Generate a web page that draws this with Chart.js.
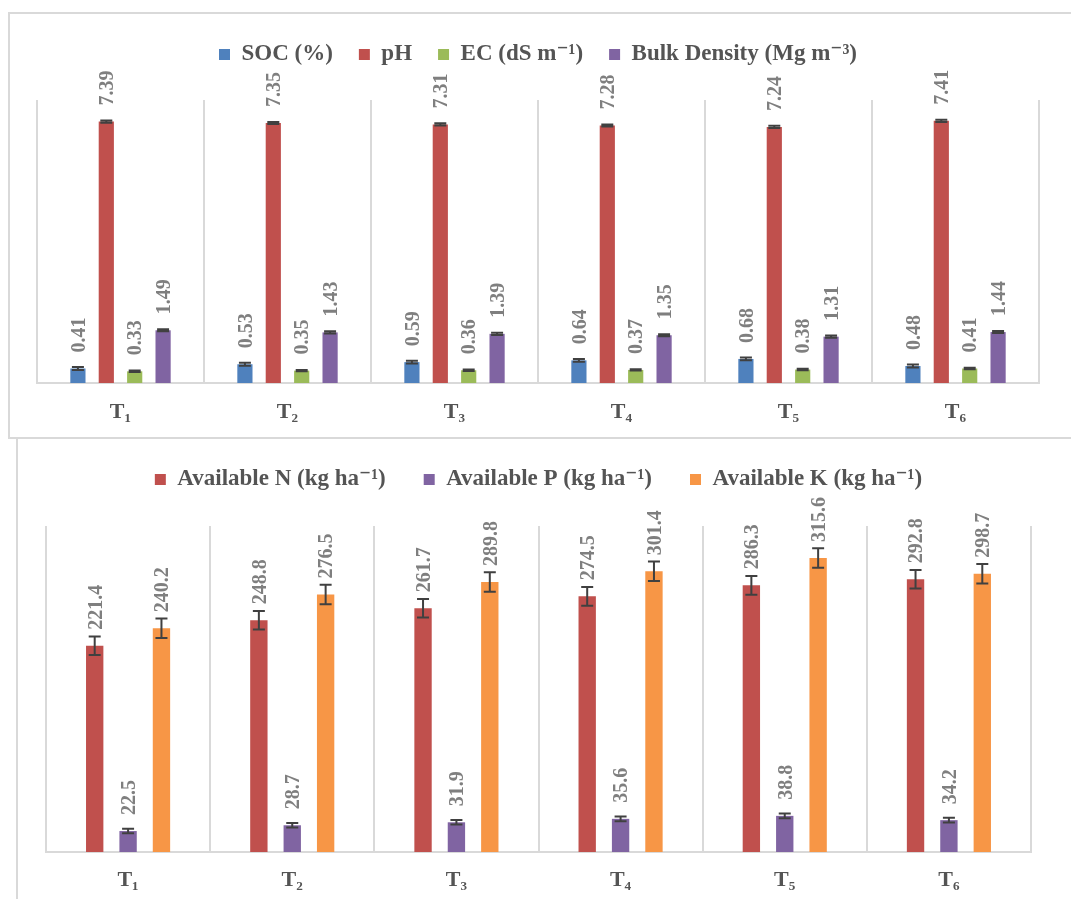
<!DOCTYPE html>
<html>
<head>
<meta charset="utf-8">
<title>Soil properties under treatments T1–T6</title>
<script src="https://cdn.jsdelivr.net/npm/chart.js@4.4.1/dist/chart.umd.min.js"></script>
<style>
  html, body { margin: 0; padding: 0; background: #fff; width: 1071px; height: 899px; overflow: hidden; position: relative; }
  .frame { position: absolute; border: 2px solid #d9d9d9; box-sizing: border-box; }
  #f1 { left: 8px; top: 12px; width: 1090px; height: 427px; }
  #f2 { left: 16px; top: 437px; width: 1090px; height: 480px; }
  canvas { position: absolute; left: 0; }
  #c1 { top: 0; }
  #c2 { top: 438px; }
</style>
</head>
<body>
<div class="frame" id="f1"></div>
<div class="frame" id="f2"></div>
<canvas id="c1" width="1071" height="437"></canvas>
<canvas id="c2" width="1071" height="461"></canvas>
<script>
// Treatments
const treatments = ['T\u2081', 'T\u2082', 'T\u2083', 'T\u2084', 'T\u2085', 'T\u2086'];

// Physico-chemical properties
const socValues = [0.41, 0.53, 0.59, 0.64, 0.68, 0.48];
const socErrors = [0.04, 0.04, 0.04, 0.04, 0.04, 0.04];
const phValues  = [7.39, 7.35, 7.31, 7.28, 7.24, 7.41];
const phErrors  = [0.03, 0.03, 0.03, 0.03, 0.03, 0.03];
const ecValues  = [0.33, 0.35, 0.36, 0.37, 0.38, 0.41];
const ecErrors  = [0.02, 0.02, 0.02, 0.02, 0.02, 0.02];
const bdValues  = [1.49, 1.43, 1.39, 1.35, 1.31, 1.44];
const bdErrors  = [0.03, 0.03, 0.03, 0.03, 0.03, 0.03];

// Available nutrients
const nValues = [221.4, 248.8, 261.7, 274.5, 286.3, 292.8];
const nErrors = [10, 10, 10, 10, 10, 10];
const pValues = [22.5, 28.7, 31.9, 35.6, 38.8, 34.2];
const pErrors = [2.5, 2.5, 2.5, 2.5, 2.5, 2.5];
const kValues = [240.2, 276.5, 289.8, 301.4, 315.6, 298.7];
const kErrors = [10.5, 10.5, 10.5, 10.5, 10.5, 10.5];

const SERIF = "'Liberation Serif', 'Times New Roman', 'DejaVu Serif', serif";
Chart.defaults.font.family = SERIF;

// Fixes the height reserved for the legend so the plot area starts where wanted
const legendHeight = {
  id: 'legendHeight',
  beforeLayout(chart, args, opts) {
    const lg = chart.legend;
    if (!lg || lg._fixedHeight) return;
    const fit = lg.fit;
    lg.fit = function () { fit.call(this); this.height = opts.height; };
    lg._fixedHeight = true;
  }
};

// Error bars and rotated value labels above every bar
const barAnnotations = {
  id: 'barAnnotations',
  afterDatasetsDraw(chart, args, opts) {
    const ctx = chart.ctx;
    const yScale = chart.scales.y;
    chart.data.datasets.forEach((ds, di) => {
      const meta = chart.getDatasetMeta(di);
      meta.data.forEach((bar, i) => {
        const v = ds.data[i];
        const e = ds.errors[i];
        const yHi = yScale.getPixelForValue(v + e);
        const yLo = yScale.getPixelForValue(v - e);
        ctx.save();
        ctx.strokeStyle = '#404040';
        ctx.lineWidth = 2;
        ctx.beginPath();
        ctx.moveTo(bar.x, yHi); ctx.lineTo(bar.x, yLo);
        ctx.moveTo(bar.x - opts.cap, yHi); ctx.lineTo(bar.x + opts.cap, yHi);
        ctx.moveTo(bar.x - opts.cap, yLo); ctx.lineTo(bar.x + opts.cap, yLo);
        ctx.stroke();
        ctx.restore();

        ctx.save();
        ctx.translate(bar.x, bar.y - opts.gap);
        ctx.rotate(-Math.PI / 2);
        ctx.font = 'bold ' + opts.fontSize + 'px ' + SERIF;
        ctx.fillStyle = '#7f7f7f';
        ctx.textAlign = 'left';
        ctx.textBaseline = 'alphabetic';
        ctx.fillText(v.toFixed(opts.decimals), 0, opts.fontSize * 0.34);
        ctx.restore();
      });
    });
  }
};

function barSet(label, data, errors, color) {
  return { label, data, errors, backgroundColor: color, borderWidth: 0 };
}

function makeOptions(cfg) {
  return {
    responsive: false,
    animation: false,
    devicePixelRatio: 1,
    layout: { padding: cfg.padding },
    datasets: { bar: { categoryPercentage: cfg.catPct, barPercentage: cfg.barPct } },
    plugins: {
      legend: {
        position: 'top',
        labels: {
          boxWidth: 11, boxHeight: 11, padding: cfg.legendPad,
          color: '#545454',
          font: { family: SERIF, size: 23, weight: 'bold' }
        }
      },
      tooltip: { enabled: false },
      legendHeight: { height: cfg.legendH },
      barAnnotations: { cap: 6, gap: 16, fontSize: 20, decimals: cfg.decimals }
    },
    scales: {
      x: {
        grid: { offset: true, color: '#d9d9d9', lineWidth: 2, drawTicks: false },
        border: { color: '#d9d9d9', width: 2 },
        ticks: { color: '#545454', padding: cfg.tickPad, font: { family: SERIF, size: 22, weight: 'bold' } },
        afterFit(s) { s.height = cfg.axisH; }
      },
      y: { display: false, min: 0, max: cfg.yMax }
    }
  };
}

new Chart(document.getElementById('c1'), {
  type: 'bar',
  data: {
    labels: treatments,
    datasets: [
      barSet('SOC (%)', socValues, socErrors, '#4f81bd'),
      barSet('pH', phValues, phErrors, '#c0504d'),
      barSet('EC (dS m\u207B\u00B9)', ecValues, ecErrors, '#9bbb59'),
      barSet('Bulk Density (Mg m\u207B\u00B3)', bdValues, bdErrors, '#8064a2')
    ]
  },
  options: makeOptions({
    padding: { left: 37, right: 32, top: 17, bottom: 0 },
    catPct: 0.68, barPct: 0.535, legendPad: 26, legendH: 83,
    decimals: 2, tickPad: 16, axisH: 54, yMax: 8
  }),
  plugins: [legendHeight, barAnnotations]
});

new Chart(document.getElementById('c2'), {
  type: 'bar',
  data: {
    labels: treatments,
    datasets: [
      barSet('Available N (kg ha\u207B\u00B9)', nValues, nErrors, '#c0504d'),
      barSet('Available P (kg ha\u207B\u00B9)', pValues, pErrors, '#8064a2'),
      barSet('Available K (kg ha\u207B\u00B9)', kValues, kErrors, '#f79646')
    ]
  },
  options: makeOptions({
    padding: { left: 46, right: 40, top: -8, bottom: 0 },
    catPct: 0.61, barPct: 0.52, legendPad: 38, legendH: 96,
    decimals: 1, tickPad: 15, axisH: 47, yMax: 350
  }),
  plugins: [legendHeight, barAnnotations]
});
</script>
</body>
</html>
